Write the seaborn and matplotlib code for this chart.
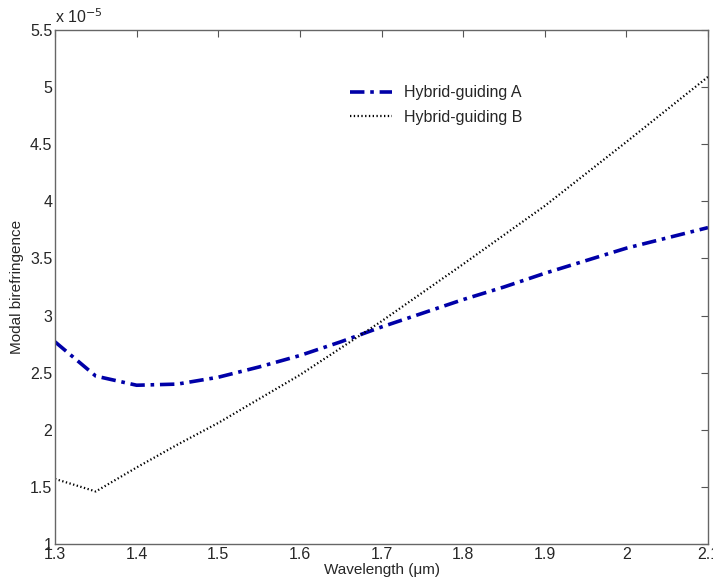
import numpy as np
import pandas as pd
import matplotlib
matplotlib.use("Agg")
import matplotlib.pyplot as plt
import matplotlib.ticker as mt
import seaborn as sns

# wavelength (um) and modal birefringence (x 1e-5)
wl_a = [1.30, 1.35, 1.40, 1.45, 1.50, 1.55, 1.60, 1.65, 1.70, 1.75, 1.80,
        1.85, 1.90, 1.95, 2.00, 2.05, 2.10]
bir_a = [2.77, 2.47, 2.39, 2.40, 2.46, 2.55, 2.65, 2.77, 2.90, 3.02, 3.14,
         3.25, 3.37, 3.48, 3.59, 3.68, 3.77]
wl_b = [1.30, 1.35, 1.40, 1.45, 1.50, 1.60, 1.70, 1.80, 1.90, 2.00, 2.10]
bir_b = [1.57, 1.46, 1.67, 1.87, 2.06, 2.48, 2.95, 3.45, 3.96, 4.52, 5.09]

xticks = [1.3, 1.4, 1.5, 1.6, 1.7, 1.8, 1.9, 2.0, 2.1]
yticks = [1, 1.5, 2, 2.5, 3, 3.5, 4, 4.5, 5, 5.5]

sns.set_style("white")
plt.rcParams['font.family'] = ['Liberation Sans', 'DejaVu Sans']

fig = plt.figure(figsize=(7.13, 5.85), dpi=100)
ax = fig.add_axes([55/713, 41/585, 653/713, 514/585])

df_a = pd.DataFrame({"wl": wl_a, "b": bir_a})
df_b = pd.DataFrame({"wl": wl_b, "b": bir_b})
sns.lineplot(data=df_a, x="wl", y="b", ax=ax, color="#0000a8", lw=2.6,
             linestyle=(0, (4, 1.6, 1, 1.6)), label="Hybrid-guiding A")
sns.lineplot(data=df_b, x="wl", y="b", ax=ax, color="black", lw=1.6,
             linestyle=(0, (0.6, 1.1)), label="Hybrid-guiding B")

ax.set_xlim(1.3, 2.1)
ax.set_ylim(1, 5.5)
ax.set_xticks(xticks)
ax.set_yticks(yticks)
fmt = mt.FuncFormatter(lambda v, p: "%g" % round(v, 2))
ax.xaxis.set_major_formatter(fmt)
ax.yaxis.set_major_formatter(fmt)
ax.tick_params(direction="in", length=5, width=0.8, color="#555555",
               labelsize=11.5, top=True, right=True, pad=2)
for s in ax.spines.values():
    s.set_color("#666666")
    s.set_linewidth(1.0)

ax.set_xlabel("Wavelength (\u03bcm)", fontsize=11, labelpad=1)
ax.set_ylabel("Modal birefringence", fontsize=11, labelpad=4)
ax.text(0.0, 1.008, "x 10$^{-5}$", transform=ax.transAxes, fontsize=11.5,
        ha="left", va="bottom")

leg = ax.legend(loc="upper left", bbox_to_anchor=(0.43, 0.92), frameon=False,
                fontsize=11.5, handlelength=2.6, handletextpad=0.8,
                labelspacing=0.6)

fig.savefig("out.png", dpi=100)
